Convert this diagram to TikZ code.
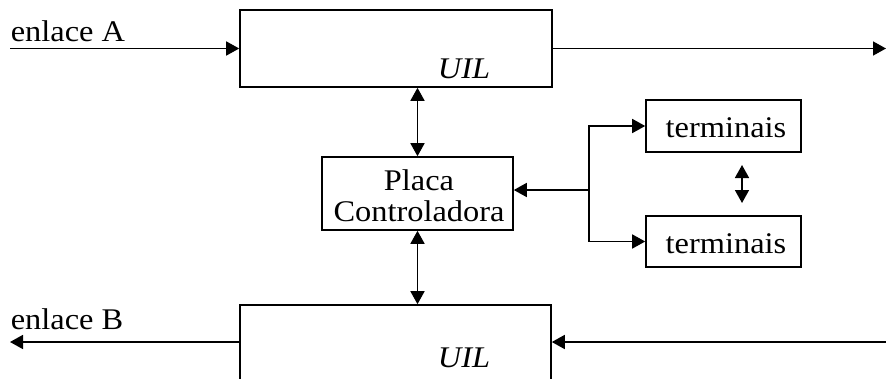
\documentclass[tikz,border=0pt]{standalone}
\usepackage{fontspec}
\setmainfont[FakeStretch=1.08]{Liberation Serif}
\usetikzlibrary{arrows.meta}
\begin{document}
\begin{tikzpicture}[x=1pt,y=-1pt,
  line width=1.6pt,
  tip/.style={-{Triangle[length=13pt,width=14pt]}},
  dtip/.style={{Triangle[length=13pt,width=14pt]}-{Triangle[length=13pt,width=14pt]}},
  txt/.style={font=\fontsize{30}{31}\selectfont, inner sep=0pt, anchor=base},
  blk/.style={draw, line width=1.6pt, inner sep=0pt}]
\useasboundingbox (0,0) rectangle (886,378);
% boxes
\node[blk, minimum width=312pt, minimum height=77pt] (uilA) at (396,48.5) {};
\node[blk, minimum width=311pt, minimum height=86pt] (uilB) at (395.5,348) {};
\node[blk, minimum width=191pt, minimum height=73pt] (placa) at (417.5,193.5) {};
\node[blk, minimum width=155pt, minimum height=52pt] (t1) at (723.5,126) {};
\node[blk, minimum width=155pt, minimum height=51pt] (t2) at (723.5,241.5) {};
% texts
\node[txt, anchor=base west] (lA) at (10,41) {enlace A};
\node[txt, anchor=base west] (lB) at (10,329) {enlace B};
\node[txt] (uA) at (464,78) {\itshape UIL};
\node[txt] (uB) at (464,367) {\itshape UIL};
\node[txt] (p1) at (419,190) {Placa};
\node[txt] (p2) at (419,221) {Controladora};
\node[txt] (tt1) at (726,137) {terminais};
\node[txt] (tt2) at (726,253) {terminais};
% coordinates
\coordinate (inA) at (10,48.5);
\coordinate (outA) at (886,48.5);
\coordinate (outB) at (10,342);
\coordinate (inB) at (886,342);
\coordinate (J) at (589,190);
\coordinate (d1) at (742,165);
\coordinate (d2) at (742,203);
% connectors
\draw[tip] (inA) -- (uilA.west);
\draw[tip] (uilA.east) -- (outA);
\draw[tip] (outB -| uilB.west) -- (outB);
\draw[tip] (inB) -- (inB -| uilB.east);
\draw[dtip] (placa.north |- uilA.south) -- (placa.north);
\draw[dtip] (placa.south) -- (placa.south |- uilB.north);
\draw[tip] (J) -- (J -| placa.east);
\draw[tip] (J) |- (t1.west);
\draw[tip] (J) |- (t2.west);
\draw[dtip] (d1) -- (d2);
\end{tikzpicture}
\end{document}
